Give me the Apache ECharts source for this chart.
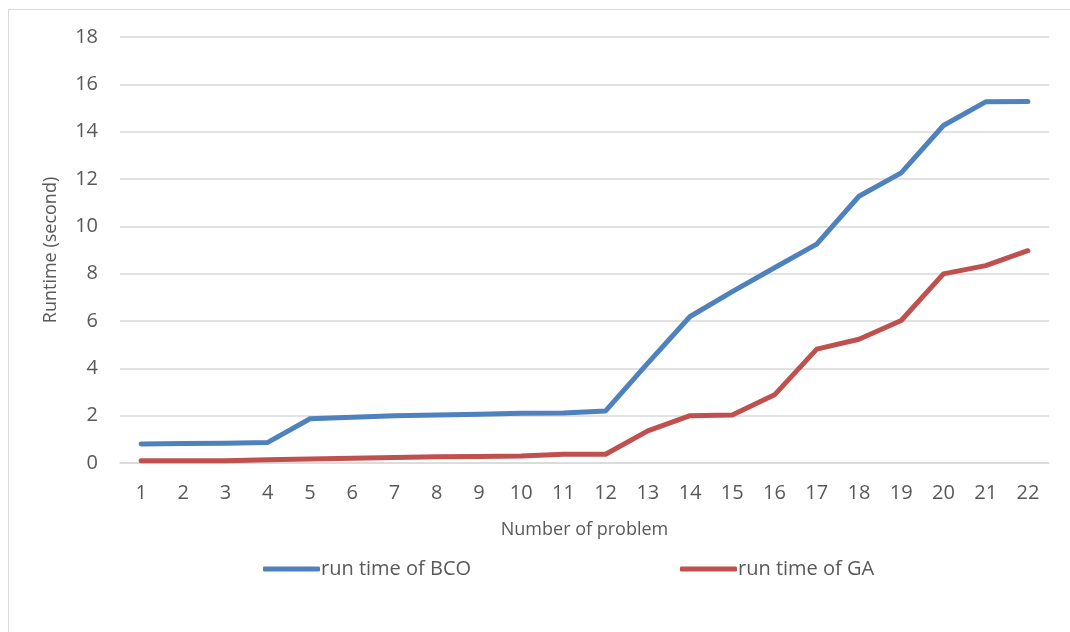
<!DOCTYPE html>
<html>
<head>
<meta charset="utf-8">
<script src="https://cdn.jsdelivr.net/npm/echarts@6/dist/echarts.min.js"></script>
<style>html,body{margin:0;padding:0;background:#fff}#chart{width:1070px;height:632px}</style>
</head>
<body>
<div id="chart"></div>
<script>
const categories = ['1','2','3','4','5','6','7','8','9','10','11','12','13','14','15','16','17','18','19','20','21','22'];
const bcoValues = [0.80,0.82,0.83,0.87,1.87,1.93,2.00,2.03,2.06,2.10,2.11,2.20,4.22,6.19,7.24,8.25,9.25,11.27,12.26,14.26,15.26,15.27];
const gaValues = [0.10,0.10,0.10,0.14,0.17,0.20,0.23,0.26,0.27,0.30,0.37,0.37,1.36,2.00,2.03,2.88,4.81,5.23,6.02,7.99,8.34,8.97];
const yTicks = { min: 0, max: 18, interval: 2 };

const font = 'Open Sans';
const legendText = { fontFamily: font, fontSize: 20, color: '#595959', padding: [0,0,0,-4] };
const chart = echarts.init(document.getElementById('chart'), null, { renderer: 'canvas' });
chart.setOption({
  animation: false,
  backgroundColor: '#ffffff',
  graphic: [{
    type: 'rect', left: 6, top: 7,
    shape: { x: 6, y: 7, width: 1200, height: 800 },
    style: { fill: 'none', stroke: '#d9d9d9', lineWidth: 1 }, silent: true
  }],
  grid: { left: 120, right: 21, top: 37, bottom: 169 },
  legend: [
    { left: 258, top: 554, itemWidth: 57, itemHeight: 5, icon: 'roundRect',
      textStyle: legendText, data: ['run time of BCO'] },
    { left: 675, top: 554, itemWidth: 57, itemHeight: 5, icon: 'roundRect',
      textStyle: legendText, data: ['run time of GA'] }
  ],
  xAxis: {
    type: 'category', data: categories, boundaryGap: true,
    name: 'Number of problem', nameLocation: 'middle', nameGap: 58,
    nameTextStyle: { fontFamily: font, fontSize: 18, color: '#595959' },
    axisLine: { lineStyle: { color: '#d9d9d9', width: 1.5 } },
    axisTick: { show: false },
    axisLabel: { fontFamily: font, fontSize: 20, color: '#595959', margin: 20 },
    splitLine: { show: false }
  },
  yAxis: {
    type: 'value', min: yTicks.min, max: yTicks.max, interval: yTicks.interval,
    name: 'Runtime (second)', nameLocation: 'middle', nameGap: 60,
    nameTextStyle: { fontFamily: font, fontSize: 18, color: '#595959' },
    axisLine: { show: false }, axisTick: { show: false },
    axisLabel: { fontFamily: font, fontSize: 20, color: '#595959', margin: 22 },
    splitLine: { lineStyle: { color: '#d9d9d9', width: 1.5 } }
  },
  series: [
    { name: 'run time of BCO', type: 'line', data: bcoValues, symbol: 'none',
      lineStyle: { color: '#4f81bd', width: 5, cap: 'round', join: 'round' }, itemStyle: { color: '#4f81bd' } },
    { name: 'run time of GA', type: 'line', data: gaValues, symbol: 'none',
      lineStyle: { color: '#c0504d', width: 5, cap: 'round', join: 'round' }, itemStyle: { color: '#c0504d' } }
  ]
});
</script>
</body>
</html>
